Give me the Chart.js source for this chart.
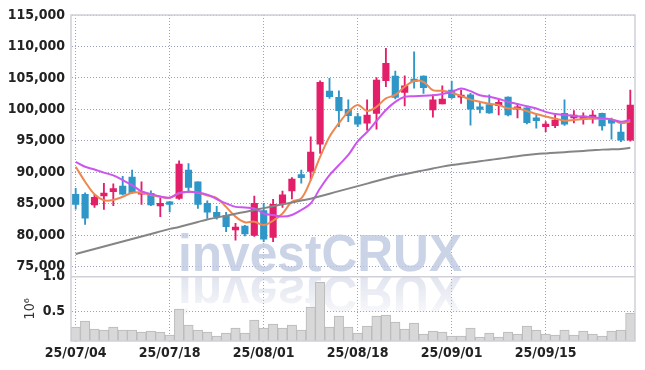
<!DOCTYPE html>
<html>
<head>
<meta charset="utf-8">
<script src="https://cdn.jsdelivr.net/npm/chart.js@4.4.1/dist/chart.umd.min.js"></script>
<style>
  html, body { margin: 0; padding: 0; background: #ffffff; }
</style>
</head>
<body>
<canvas id="c" width="645" height="370"></canvas>
<script>
const dates = [
  '25/07/04','25/07/07','25/07/08','25/07/09','25/07/10','25/07/11','25/07/14','25/07/15','25/07/16','25/07/17',
  '25/07/18','25/07/21','25/07/22','25/07/23','25/07/24','25/07/25','25/07/28','25/07/29','25/07/30','25/07/31',
  '25/08/01','25/08/04','25/08/05','25/08/06','25/08/07','25/08/08','25/08/11','25/08/12','25/08/13','25/08/14',
  '25/08/18','25/08/19','25/08/20','25/08/21','25/08/22','25/08/25','25/08/26','25/08/27','25/08/28','25/08/29',
  '25/09/01','25/09/02','25/09/03','25/09/04','25/09/05','25/09/08','25/09/09','25/09/10','25/09/11','25/09/12',
  '25/09/15','25/09/16','25/09/17','25/09/18','25/09/19','25/09/22','25/09/23','25/09/24','25/09/25','25/09/26'
];
const openP = [
  86500,86500,84800,86250,86900,87800,89250,86500,86650,84650,
  85300,85850,90350,88500,85050,83650,83100,80850,81450,79950,
  83900,79650,84950,87050,89650,90150,94450,102900,101900,100000,
  98850,97800,99350,104550,105300,102700,104800,105300,99900,100850,
  103050,101950,102300,100400,100750,100600,101950,100050,100250,98650,
  97250,97400,99350,98650,98500,98500,99350,98300,96400,95100
];
const highP = [
  87450,86750,86400,88250,88150,89350,90350,88500,87050,85950,
  85400,91800,91400,88500,85450,84600,83650,81900,81550,86200,
  85050,85700,87000,89150,90350,95650,104550,104950,102950,101500,
  99350,101500,105050,109700,106100,105350,109150,105350,102300,103750,
  104500,103050,102550,101200,102300,101500,102000,100800,100300,99100,
  98050,99100,101500,99800,99450,99800,99400,98600,97800,103050
];
const lowP = [
  84150,81700,84400,84100,84700,86400,86650,84900,84700,82950,
  83700,85700,86800,84250,82650,82550,80550,79200,79900,79800,
  78950,78950,84400,85750,88250,88750,93000,101750,97250,98050,
  97250,96700,96850,103600,101650,100550,103350,102550,98750,100850,
  101750,100950,97500,99450,99350,99100,98950,98650,97700,97000,
  96450,97100,97450,97850,97650,97800,96700,95250,94850,94950
];
const closeP = [
  84900,82700,86000,86700,87400,86500,86750,86850,84800,85050,
  84900,91300,87600,84900,83650,82950,81350,81300,80200,85050,
  79350,84900,86400,88900,89150,93200,104300,102000,99800,99000,
  97650,99100,104650,107300,101900,103750,104400,103450,101500,101650,
  101850,102150,100050,100000,99450,101100,99100,100400,97900,98200,
  97650,98300,97650,99100,98950,99100,97350,97800,95100,100700
];
const maShort = [
  90880,88500,86500,85550,85600,86100,86750,86750,86400,86100,
  85950,86650,86900,86750,86300,85900,84500,82950,82050,82150,
  81600,82300,83450,85300,85850,88750,92450,95650,97800,99600,
  100700,99750,100400,101750,102300,103600,104500,104350,103050,102950,
  102650,102150,101550,101200,100900,100700,100150,100150,99750,99250,
  98850,98550,98200,98300,98450,98550,98500,98450,97800,98050
];
const maMid = [
  91650,90880,90450,89950,89500,88750,87950,86950,86550,86150,
  85950,86700,86900,86800,86450,85750,85050,84500,84400,84250,
  83450,83200,82950,83200,84000,85050,87450,89550,91150,92750,
  94900,96400,98150,99900,101200,102000,102100,102150,102250,102450,
  102800,103300,102900,102250,102000,101650,101200,100850,100500,100150,
  99600,99250,99100,98950,98850,98750,98600,98400,98050,98300
];
const maLong = [
  77000,77400,77800,78200,78600,79000,79400,79800,80200,80600,
  81000,81300,81700,82100,82500,82800,83100,83400,83700,84000,
  84300,84600,84900,85200,85500,85800,86200,86600,87000,87400,
  87800,88200,88600,89000,89400,89700,90000,90300,90600,90900,
  91150,91350,91550,91750,91950,92150,92350,92550,92750,92900,
  93000,93100,93200,93300,93400,93500,93600,93650,93700,93900
];
const volume = [
  0.277,0.363,0.248,0.234,0.277,0.234,0.234,0.206,0.220,0.206,
  0.163,0.534,0.306,0.234,0.206,0.148,0.191,0.263,0.191,0.377,
  0.263,0.320,0.263,0.306,0.234,0.563,0.920,0.277,0.434,0.277,
  0.191,0.291,0.434,0.448,0.348,0.248,0.334,0.177,0.220,0.206,
  0.148,0.148,0.263,0.134,0.191,0.134,0.206,0.177,0.291,0.234,
  0.177,0.163,0.234,0.163,0.220,0.177,0.148,0.220,0.234,0.477
];
const priceTicks = [75000,80000,85000,90000,95000,100000,105000,110000,115000];
const volTicks = [0.5, 1.0];
const labelEvery = 10;

const UP = '#e31f6a';
const DOWN = '#2f96c8';
const candleColors = closeP.map((c, i) => c >= openP[i] ? UP : DOWN);
const GRID = 'rgba(150,156,192,0.95)';
const FONT = "'Liberation Sans Narrow','DejaVu Sans Condensed','Liberation Sans',sans-serif";
const tickFont = { family: FONT, size: 14, weight: 'bold' };

const decor = {
  id: 'decor',
  beforeDatasetsDraw(chart) {
    const ctx = chart.ctx;
    const text = 'investCRUX';
    ctx.save();
    ctx.font = "bold 52px 'Liberation Sans', Arial, sans-serif";
    const w = ctx.measureText(text).width;
    const sx = 284 / w;
    ctx.textBaseline = 'alphabetic';
    ctx.textAlign = 'left';
    ctx.save();
    ctx.translate(178, 271);
    ctx.scale(sx, 1);
    ctx.fillStyle = 'rgba(188,198,224,0.78)';
    ctx.fillText(text, 0, 0);
    ctx.restore();
    ctx.save();
    ctx.beginPath();
    ctx.rect(150, 277, 340, 45);
    ctx.clip();
    ctx.translate(178, 276);
    ctx.scale(sx, -1);
    const g = ctx.createLinearGradient(0, 0, 0, -45);
    g.addColorStop(0, 'rgba(200,205,225,0.55)');
    g.addColorStop(1, 'rgba(200,205,225,0.05)');
    ctx.fillStyle = g;
    ctx.fillText(text, 0, 0);
    ctx.restore();
    ctx.restore();
  },
  afterDatasetsDraw(chart) {
    const ctx = chart.ctx;
    const a = chart.chartArea;
    const sep = chart.scales.y.bottom;
    ctx.save();
    ctx.strokeStyle = '#cfd0d8';
    ctx.lineWidth = 1.5;
    ctx.strokeRect(a.left, a.top, a.right - a.left, a.bottom - a.top);
    ctx.beginPath();
    ctx.moveTo(a.left, sep);
    ctx.lineTo(a.right, sep);
    ctx.stroke();
    ctx.restore();
  },
  afterDraw(chart) {
    const ctx = chart.ctx;
    const a = chart.chartArea;
    const vs = chart.scales.y2;
    ctx.save();
    ctx.fillStyle = '#222';
    ctx.font = "bold 14px " + FONT;
    ctx.textAlign = 'right';
    ctx.textBaseline = 'middle';
    volTicks.forEach(v => {
      ctx.fillText(v.toFixed(1), a.left - 6, vs.getPixelForValue(v));
    });
    ctx.restore();
  }
};

new Chart(document.getElementById('c'), {
  data: {
    labels: dates,
    datasets: [
      { type: 'line', label: 'MA long', data: maLong, yAxisID: 'y', borderColor: '#858585', borderWidth: 2, pointRadius: 0, tension: 0.3, order: 0 },
      { type: 'line', label: 'MA mid', data: maMid, yAxisID: 'y', borderColor: '#cc55ee', borderWidth: 2, pointRadius: 0, tension: 0.35, order: 0 },
      { type: 'line', label: 'MA short', data: maShort, yAxisID: 'y', borderColor: '#ee8850', borderWidth: 2, pointRadius: 0, tension: 0.35, order: 0 },
      { type: 'bar', label: 'wick', data: lowP.map((l, i) => [l, highP[i]]), yAxisID: 'y', backgroundColor: candleColors, barThickness: 1.2, grouped: false, order: 2 },
      { type: 'bar', label: 'body', data: openP.map((o, i) => [o, closeP[i]]), yAxisID: 'y', backgroundColor: candleColors, barThickness: 6.5, minBarLength: 2, grouped: false, order: 1 },
      { type: 'bar', label: 'volume', data: volume, yAxisID: 'y2', backgroundColor: '#d8d8d8', borderColor: '#b9b9b9', borderWidth: 1, barPercentage: 1, categoryPercentage: 1, grouped: false, order: 3 }
    ]
  },
  options: {
    responsive: false,
    animation: false,
    layout: { padding: { top: 15, right: 10, left: 0, bottom: 4.2 } },
    plugins: { legend: { display: false } },
    scales: {
      x: {
        offset: true,
        grid: { offset: false, tickLength: 0, color: ctx => (ctx.index % labelEvery === 0 ? GRID : 'rgba(0,0,0,0)') },
        border: { color: 'rgba(0,0,0,0)', dash: [1, 2] },
        ticks: { autoSkip: false, maxRotation: 0, minRotation: 0, padding: 4, color: '#222', font: tickFont,
          callback: (v, i) => (i % labelEvery === 0 ? dates[i] : '') }
      },
      y: {
        position: 'left', stack: 'panel', stackWeight: 261.7, weight: 1,
        min: 73400, max: 115000,
        afterBuildTicks: ax => { ax.ticks = priceTicks.map(v => ({ value: v })); },
        grid: { tickLength: 0, color: GRID },
        border: { color: 'rgba(0,0,0,0)', dash: [1, 2] },
        ticks: { autoSkip: false, padding: 6, color: '#222', font: tickFont, callback: v => Number(v).toLocaleString('en-US') }
      },
      y2: {
        position: 'left', stack: 'panel', stackWeight: 64.3, weight: 0,
        min: 0.077, max: 1.0,
        afterBuildTicks: ax => { ax.ticks = volTicks.map(v => ({ value: v })); },
        grid: { tickLength: 0, color: GRID },
        border: { color: 'rgba(0,0,0,0)', dash: [1, 2] },
        ticks: { display: false },
        title: { display: true, text: '10⁶', color: '#333', font: { family: FONT, size: 14 }, padding: { top: 22, bottom: 32.2 } }
      }
    }
  },
  plugins: [decor]
});
</script>
</body>
</html>
